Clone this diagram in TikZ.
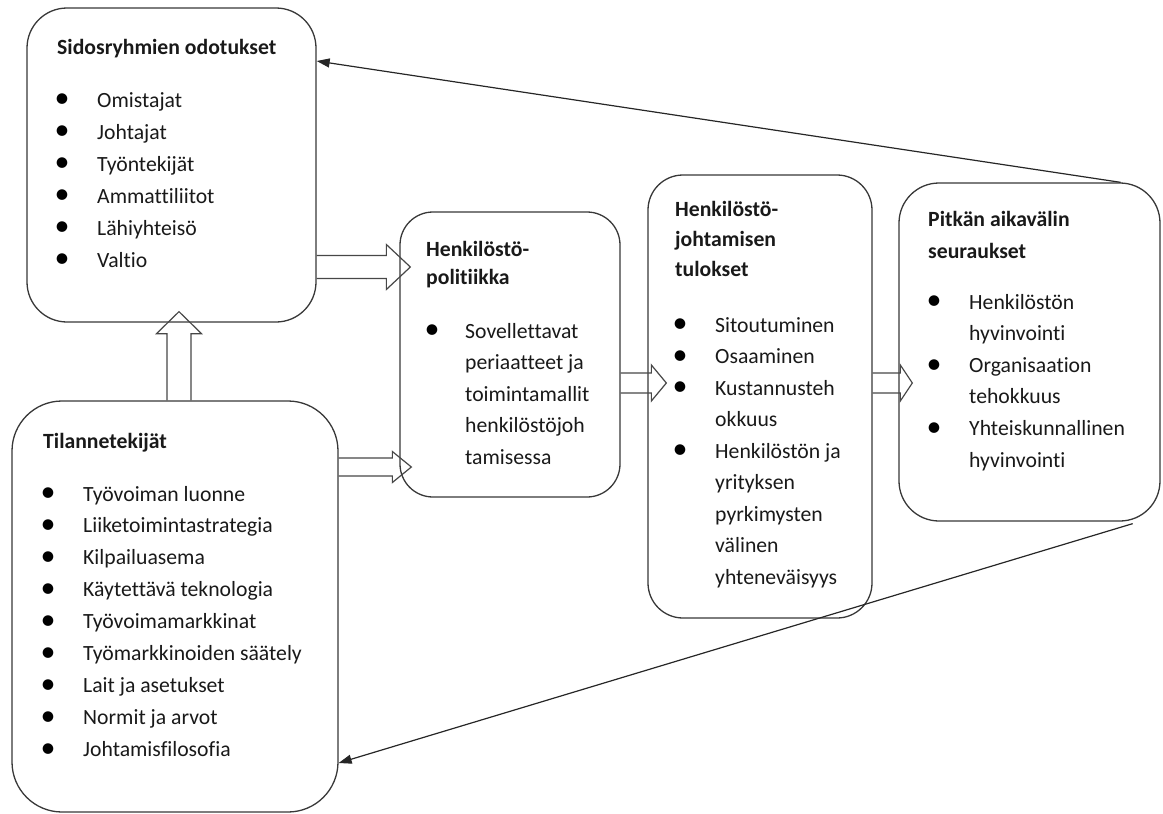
\documentclass[tikz,border=0pt]{standalone}
\usepackage{fontspec}
\setmainfont[Ligatures=NoCommon]{Carlito}
\usetikzlibrary{arrows.meta,calc}

% hollow block arrow pointing right: start, tip, shaft half-width, head half-width, head length
\newcommand\blockright[5]{%
  \draw[blockarrow] let \p1=(#1), \p2=(#2) in
    (\x1,\y1+#3) -- (\x2-#5,\y1+#3) -- (\x2-#5,\y1+#4) -- (\x2,\y1)
    -- (\x2-#5,\y1-#4) -- (\x2-#5,\y1-#3) -- (\x1,\y1-#3);}
% hollow block arrow pointing up
\newcommand\blockup[5]{%
  \draw[blockarrow] let \p1=(#1), \p2=(#2) in
    (\x1-#3,\y1) -- (\x1-#3,\y2-#5) -- (\x1-#4,\y2-#5) -- (\x1,\y2)
    -- (\x1+#4,\y2-#5) -- (\x1+#3,\y2-#5) -- (\x1+#3,\y1);}

\tikzset{
  panel/.style={draw=black!78, line width=1.3pt, inner sep=0pt},
  blockarrow/.style={draw=black!72, line width=1.2pt, line join=miter},
  feedback/.style={draw=black!85, line width=1.2pt,
    -{Triangle[length=13pt,width=9pt]}},
  txt/.style={anchor=base west, inner sep=0pt, text=black!90,
    font=\fontsize{21.7}{26}\selectfont},
  head/.style={txt, font=\fontsize{21.7}{26}\selectfont\bfseries},
  bul/.style={anchor=center, inner sep=0pt, text=black,
    font=\fontsize{30}{30}\selectfont},
}

\begin{document}
\begin{tikzpicture}[x=1pt,y=-1pt]
\useasboundingbox (0,0) rectangle (1163,814);

% ---- boxes ----
\node[panel, rounded corners=40pt, minimum width=289pt, minimum height=314pt] (sid) at (171.5,165) {};
\node[panel, rounded corners=50pt, minimum width=326pt, minimum height=411pt] (til) at (175,606.5) {};
\node[panel, rounded corners=33pt, minimum width=220pt, minimum height=285pt] (pol) at (510,354.5) {};
\node[panel, rounded corners=35pt, minimum width=224pt, minimum height=443pt] (tul) at (760,396.5) {};
\node[panel, rounded corners=40pt, minimum width=261pt, minimum height=338pt] (pit) at (1029.5,352) {};

% ---- Sidosryhmien odotukset ----
\node[head] (sidh) at (57,54) {Sidosryhmien odotukset};
\foreach \t [count=\i from 0] in {Omistajat,Johtajat,Työntekijät,Ammattiliitot,Lähiyhteisö,Valtio}{
  \node[bul] (sidb\i) at (62,{101+32*\i}) {•};
  \node[txt] (sidt\i) at (97,{107+32*\i}) {\t};
}

% ---- Tilannetekijät ----
\node[head] (tilh) at (43,448) {Tilannetekijät};
\foreach \t [count=\i from 0] in {Työvoiman luonne,Liiketoimintastrategia,Kilpailuasema,
  Käytettävä teknologia,Työvoimamarkkinat,Työmarkkinoiden säätely,Lait ja asetukset,
  Normit ja arvot,Johtamisfilosofia}{
  \node[bul] (tilb\i) at (48,{495+31.9*\i}) {•};
  \node[txt] (tilt\i) at (83,{501+31.9*\i}) {\t};
}

% ---- Henkilöstöpolitiikka ----
\node[head] (polh1) at (426,256) {Henkilöstö-};
\node[head] (polh2) at (426,284) {politiikka};
\node[bul] (polb0) at (432,332) {•};
\foreach \t [count=\i from 0] in {Sovellettavat,periaatteet ja,toimintamallit,henkilöstöjoh,tamisessa}{
  \node[txt] (polt\i) at (465,{338+31.5*\i}) {\t};
}

% ---- Henkilöstöjohtamisen tulokset ----
\node[head] (tulh1) at (675,216) {Henkilöstö-};
\node[head] (tulh2) at (675,246) {johtamisen};
\node[head] (tulh3) at (675,276) {tulokset};
\foreach \i in {0,1,2,4}{
  \node[bul] (tulb\i) at (680,{326+31.5*\i}) {•};
}
\foreach \t [count=\i from 0] in {Sitoutuminen,Osaaminen,Kustannusteh,okkuus,Henkilöstön ja,
  yrityksen,pyrkimysten,välinen,yhteneväisyys}{
  \node[txt] (tult\i) at (715,{332+31.5*\i}) {\t};
}

% ---- Pitkän aikavälin seuraukset ----
\node[head] (pith1) at (928,226) {Pitkän aikavälin};
\node[head] (pith2) at (928,258) {seuraukset};
\foreach \i in {0,2,4}{
  \node[bul] (pitb\i) at (934,{303+31.6*\i}) {•};
}
\foreach \t [count=\i from 0] in {Henkilöstön,hyvinvointi,Organisaation,tehokkuus,
  Yhteiskunnallinen,hyvinvointi}{
  \node[txt] (pitt\i) at (969,{309+31.6*\i}) {\t};
}

% ---- hollow block arrows ----
\coordinate (y267) at (0,267);
\coordinate (a1s) at (sid.east |- y267);
\coordinate (a1t) at ($(pol.west |- a1s)+(11,0)$);
\blockright{a1s}{a1t}{11.5pt}{22.5pt}{24pt}

\coordinate (y467) at (0,467);
\coordinate (a2s) at (til.east |- y467);
\coordinate (a2t) at ($(pol.west |- a2s)+(12,0)$);
\blockright{a2s}{a2t}{9pt}{15.5pt}{19pt}

\coordinate (a3s) at ($(til.north)+(4,0)$);
\coordinate (a3t) at ($(sid.south)+(4,-11)$);
\blockup{a3s}{a3t}{12pt}{22.5pt}{22pt}

\coordinate (y383) at (0,383);
\coordinate (a4s) at (pol.east |- y383);
\coordinate (a4t) at ($(tul.west |- a4s)+(19,0)$);
\blockright{a4s}{a4t}{10pt}{18pt}{15pt}

\coordinate (a5s) at (tul.east |- y383);
\coordinate (a5t) at ($(pit.west |- a5s)+(14,0)$);
\blockright{a5s}{a5t}{10pt}{18pt}{12pt}

% ---- feedback lines ----
\coordinate (f1s) at ($(pit.north east)+(-40,0)$);
\coordinate (f1y) at (0,61);
\draw[feedback] (f1s) -- (sid.east |- f1y);

\coordinate (f2s) at ($(pit.south east)+(-28,2)$);
\coordinate (f2y) at (0,763);
\draw[feedback] (f2s) -- (til.east |- f2y);
\end{tikzpicture}
\end{document}
